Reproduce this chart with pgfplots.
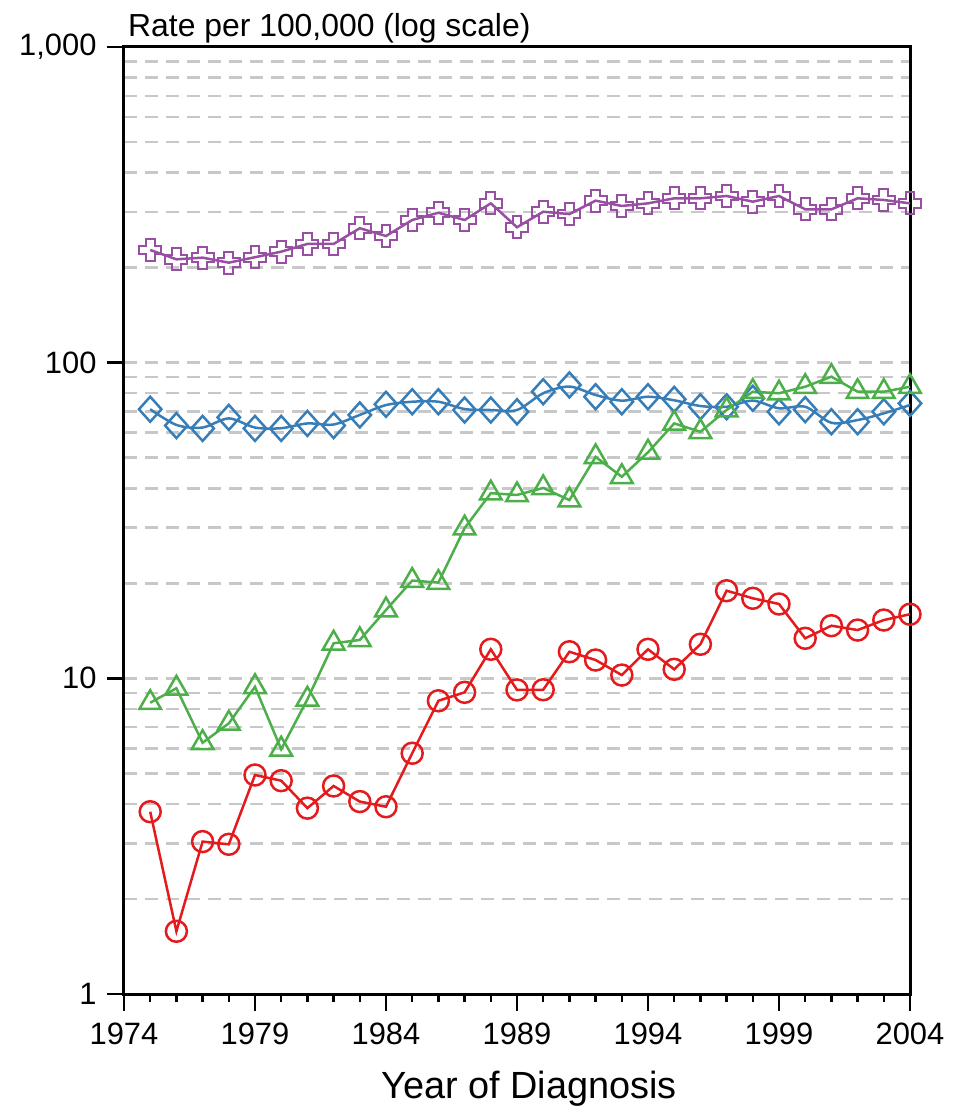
\documentclass[border=0pt]{standalone}
\usepackage{fontspec}
\setmainfont{Liberation Sans}
\usepackage{pgfplots}
\pgfplotsset{compat=1.18}
\usetikzlibrary{calc}
\definecolor{cpurple}{HTML}{984EA3}
\definecolor{cblue}{HTML}{377EB8}
\definecolor{cgreen}{HTML}{4DAF4A}
\definecolor{cred}{HTML}{E41A1C}
\definecolor{cgrid}{HTML}{C8C8C8}

\pgfdeclareplotmark{hplus}{%
  \pgfpathmoveto{\pgfqpoint{-0.4\pgfplotmarksize}{\pgfplotmarksize}}%
  \pgfpathlineto{\pgfqpoint{0.4\pgfplotmarksize}{\pgfplotmarksize}}%
  \pgfpathlineto{\pgfqpoint{0.4\pgfplotmarksize}{0.4\pgfplotmarksize}}%
  \pgfpathlineto{\pgfqpoint{\pgfplotmarksize}{0.4\pgfplotmarksize}}%
  \pgfpathlineto{\pgfqpoint{\pgfplotmarksize}{-0.4\pgfplotmarksize}}%
  \pgfpathlineto{\pgfqpoint{0.4\pgfplotmarksize}{-0.4\pgfplotmarksize}}%
  \pgfpathlineto{\pgfqpoint{0.4\pgfplotmarksize}{-\pgfplotmarksize}}%
  \pgfpathlineto{\pgfqpoint{-0.4\pgfplotmarksize}{-\pgfplotmarksize}}%
  \pgfpathlineto{\pgfqpoint{-0.4\pgfplotmarksize}{-0.4\pgfplotmarksize}}%
  \pgfpathlineto{\pgfqpoint{-\pgfplotmarksize}{-0.4\pgfplotmarksize}}%
  \pgfpathlineto{\pgfqpoint{-\pgfplotmarksize}{0.4\pgfplotmarksize}}%
  \pgfpathlineto{\pgfqpoint{-0.4\pgfplotmarksize}{0.4\pgfplotmarksize}}%
  \pgfpathclose
  \pgfusepathqstroke
}

\begin{document}
\begin{tikzpicture}
\begin{axis}[
  name=ax,
  scale only axis, width=786bp, height=947bp,
  ymode=log, ymin=1, ymax=1000,
  xmin=1974, xmax=2004,
  xtick={1974,1979,1984,1989,1994,1999,2004},
  xticklabels={1974,1979,1984,1989,1994,1999,2004},
  ytick={1,10,100,1000},
  yticklabels={1,10,100,{1,000}},
  tick align=outside,
  xtick pos=bottom, ytick pos=left,
  tickwidth=0pt, subtickwidth=0pt,
  ymajorgrids, yminorgrids,
  major grid style={cgrid, line width=2.5bp, dash pattern=on 13bp off 8bp},
  minor grid style={cgrid, line width=2.5bp, dash pattern=on 13bp off 8bp},
  axis line style={line width=3bp},
  ticklabel style={font=\fontsize{31}{33}\selectfont},
  xticklabel style={yshift=-25bp},
  yticklabel style={xshift=-24bp},
  xlabel={Year of Diagnosis},
  xlabel style={font=\fontsize{38}{40}\selectfont, xshift=12bp, yshift=-20bp},
  clip=false,
]
% blue smooth line
\addplot[cblue, line width=2.5bp, smooth, no markers] coordinates {
(1975,71.2)(1976,63.5)(1977,62.3)(1978,66.6)(1979,62.3)(1980,62.0)(1981,64.2)(1982,63.7)
(1983,68.3)(1984,73.4)(1985,75.2)(1986,75.2)(1987,71.3)(1988,70.8)(1989,70.8)(1990,80.0)
(1991,84.0)(1992,79.0)(1993,75.8)(1994,78.0)(1995,76.0)(1996,72.9)(1997,72.5)(1998,75.8)
(1999,71.7)(2000,72.5)(2001,64.5)(2002,65.8)(2003,69.1)(2004,73.4)};
% blue markers
\addplot[cblue, only marks, mark=diamond, mark size=12.5bp, mark options={line width=2.5bp, xscale=1.2}] coordinates {
(1975,71.2)(1976,63.2)(1977,61.9)(1978,67.1)(1979,61.9)(1980,61.9)(1981,64.2)(1982,63.2)
(1983,68.3)(1984,73.8)(1985,75.2)(1986,75.2)(1987,70.8)(1988,70.8)(1989,69.9)(1990,80.9)
(1991,85.0)(1992,78.0)(1993,75.2)(1994,78.0)(1995,76.5)(1996,72.5)(1997,72.5)(1998,77.1)
(1999,69.9)(2000,71.0)(2001,65.0)(2002,65.0)(2003,69.9)(2004,74.3)};
% purple
\addplot[cpurple, line width=2.5bp, mark=hplus, mark size=11bp, mark options={line width=2bp}] coordinates {
(1975,227.5)(1976,212.5)(1977,215.1)(1978,207.4)(1979,215.8)(1980,224.7)(1981,237.7)(1982,237.7)
(1983,266.6)(1984,251.9)(1985,283.1)(1986,298.5)(1987,283.1)(1988,319.7)(1989,268.5)(1990,300.7)
(1991,295.6)(1992,326.0)(1993,313.6)(1994,319.7)(1995,331.6)(1996,331.6)(1997,337.3)(1998,323.6)
(1999,337.3)(2000,306.0)(2001,306.0)(2002,331.6)(2003,327.6)(2004,319.7)};
% green
\addplot[cgreen, line width=2.5bp, mark=triangle, mark size=12.5bp, mark options={line width=2.5bp}] coordinates {
(1975,8.37)(1976,9.3)(1977,6.25)(1978,7.2)(1979,9.4)(1980,5.96)(1981,8.58)(1982,12.91)
(1983,13.23)(1984,16.46)(1985,20.4)(1986,20.1)(1987,29.9)(1988,38.6)(1989,38.1)(1990,40.1)
(1991,36.7)(1992,50.3)(1993,43.5)(1994,52.0)(1995,64.2)(1996,60.4)(1997,70.8)(1998,80.9)
(1999,80.0)(2000,83.9)(2001,90.3)(2002,80.9)(2003,80.9)(2004,83.9)};
% red
\addplot[cred, line width=2.5bp, mark=o, mark size=10.5bp, mark options={line width=2.5bp}] coordinates {
(1975,3.78)(1976,1.58)(1977,3.04)(1978,2.98)(1979,4.94)(1980,4.74)(1981,3.88)(1982,4.56)
(1983,4.07)(1984,3.92)(1985,5.79)(1986,8.49)(1987,9.03)(1988,12.36)(1989,9.19)(1990,9.2)
(1991,12.14)(1992,11.43)(1993,10.24)(1994,12.36)(1995,10.68)(1996,12.82)(1997,18.95)(1998,17.93)
(1999,17.2)(2000,13.39)(2001,14.68)(2002,14.22)(2003,15.3)(2004,15.96)};
\node[anchor=base west, font=\fontsize{32}{34}\selectfont, inner sep=0pt] at (rel axis cs:0,1) [xshift=4bp, yshift=10bp] {Rate per 100,000 (log scale)};
\end{axis}
% tick marks drawn from the axis box corners
\foreach \i in {0,1,2,3} {
  \draw[black, line width=2.5bp] ($(ax.south west)!\i/3!(ax.north west)$) -- ++(-16.5bp,0pt);
}
\foreach \i in {0,5,10,15,20,25,30} {
  \draw[black, line width=2.5bp] ($(ax.south west)!\i/30!(ax.south east)$) -- ++(0pt,-16.5bp);
}
\foreach \i in {1,2,3,4,6,7,8,9,11,12,13,14,16,17,18,19,21,22,23,24,26,27,28,29} {
  \draw[black, line width=2.5bp] ($(ax.south west)!\i/30!(ax.south east)$) -- ++(0pt,-8bp);
}
\path ($(ax.south west)+(-124bp,-125bp)$) rectangle ($(ax.north east)+(53bp,47bp)$);
\end{tikzpicture}
\end{document}
